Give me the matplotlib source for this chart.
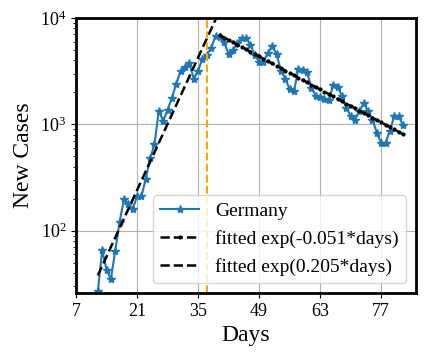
import numpy as np
import matplotlib
matplotlib.use('Agg')
import matplotlib.pyplot as plt

plt.rcParams['font.family'] = ['Liberation Serif', 'DejaVu Serif']
plt.rcParams['mathtext.fontset'] = 'stix'

# daily new cases, Germany (day 12 .. 82)
days = np.arange(12, 83)
cases = [27, 66, 43, 35, 65, 122, 198, 180, 160, 211,
         211, 307, 480, 648, 1350, 1075, 1365, 1785, 2410, 3185,
         3430, 3760, 2690, 3200, 4150, 4500, 5200, 6800, 6700, 5900,
         4600, 5000, 5800, 6500, 6500, 5600, 4500, 3900, 3850, 4700,
         5400, 4600, 3200, 2700, 2150, 2060, 3300, 3250, 3080, 2220,
         1850, 1790, 1720, 1680, 2350, 2270, 1850, 1440, 1200, 1110,
         1335, 1580, 1335, 1110, 835, 671, 671, 865, 1200, 1200,
         980]

# fitted exponentials: amplitude * exp(rate * days)
grow_rate, grow_amp = 0.205, 3.25
grow_days = np.arange(12, 40)
decay_rate, decay_amp = -0.051, 53000
decay_days = np.arange(40, 83)
peak_day = 37

xticks = [7, 21, 35, 49, 63, 77]

fig = plt.figure(figsize=(4.32, 3.6), dpi=100)
ax = fig.add_axes([0.176, 0.186, 0.787, 0.764])

ax.plot(days, cases, '-', marker='*', color='#1f77b4', lw=1.5, ms=6,
        label='Germany')
ax.plot(decay_days, decay_amp * np.exp(decay_rate * decay_days), 'k.--',
        lw=1.8, ms=4, label='fitted exp(-0.051*days)')
ax.plot(grow_days, grow_amp * np.exp(grow_rate * grow_days), 'k--',
        lw=1.8, label='fitted exp(0.205*days)')
ax.axvline(peak_day, color='orange', ls='--', lw=1.5)

ax.set_yscale('log')
ax.set_xlim(7, 85)
ax.set_ylim(26, 1e4)
ax.set_xticks(xticks)
ax.grid(True, which='major', color='#b0b0b0', lw=0.8)
ax.tick_params(labelsize=13)
for s in ax.spines.values():
    s.set_linewidth(2)

ax.set_xlabel('Days', fontsize=17)
ax.set_ylabel('New Cases', fontsize=17)
ax.legend(loc='lower right', fontsize=14)

fig.savefig('out.png', dpi=100)
